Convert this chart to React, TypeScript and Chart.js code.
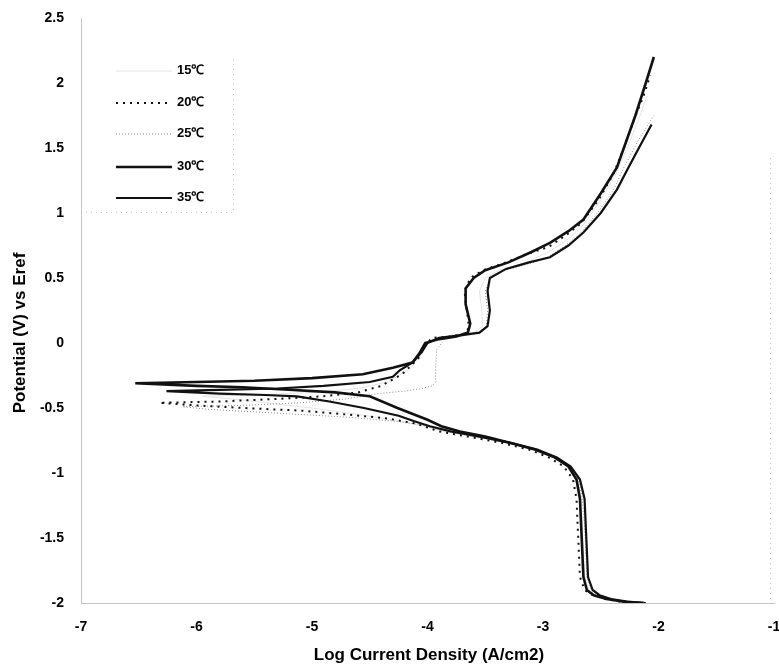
import React, { useEffect, useRef } from "react";
import { Chart, registerables } from "chart.js";

Chart.register(...registerables);

// ---- axis ticks ----
const xTickValues = [-7, -6, -5, -4, -3, -2, -1];
const yTickValues = [-2, -1.5, -1, -0.5, 0, 0.5, 1, 1.5, 2, 2.5];
const xTitle = "Log Current Density (A/cm2)";
const yTitle = "Potential (V) vs Eref";

// ---- series labels ----
const seriesLabels = ["15℃", "20℃", "25℃", "30℃", "35℃"];

// ---- 15 ℃ ----
const e15 = [-2.0, -1.99, -1.97, -1.94, -1.9, -1.8, -1.6, -1.4, -1.2, -1.05, -0.95, -0.88, -0.82, -0.77, -0.72, -0.68, -0.63, -0.59, -0.55, -0.5, -0.46, -0.43, -0.41,
  -0.4, -0.38, -0.35, -0.3, -0.2, -0.08, 0.02, 0.06, 0.08, 0.13, 0.25, 0.4, 0.5, 0.56, 0.62, 0.7, 0.8, 0.92, 1.1, 1.3, 1.5, 1.7, 1.9];
const logI15 = [-2.13, -2.29, -2.43, -2.54, -2.6, -2.64, -2.65, -2.66, -2.67, -2.7, -2.77, -2.9, -3.08, -3.3, -3.6, -3.86, -4.08, -4.3, -4.6, -5.0, -5.4, -5.7, -5.95,
  -5.5, -5.0, -4.6, -4.35, -4.15, -4.05, -3.98, -3.8, -3.6, -3.52, -3.53, -3.55, -3.5, -3.38, -3.15, -2.95, -2.78, -2.64, -2.5, -2.37, -2.27, -2.18, -2.1];

// ---- 20 ℃ ----
const e20 = [-2.0, -1.99, -1.97, -1.94, -1.9, -1.8, -1.6, -1.4, -1.2, -1.05, -0.95, -0.88, -0.82, -0.77, -0.72, -0.68, -0.62, -0.58, -0.55, -0.52, -0.5, -0.48, -0.46,
  -0.45, -0.43, -0.41, -0.38, -0.33, -0.24, -0.12, -0.02, 0.04, 0.05, 0.07, 0.12, 0.25, 0.4, 0.5, 0.56, 0.61, 0.68, 0.74, 0.83, 0.92, 1.1, 1.3, 1.5, 1.7, 1.9, 2.06];
const logI20 = [-2.15, -2.32, -2.46, -2.57, -2.64, -2.68, -2.69, -2.7, -2.71, -2.74, -2.82, -2.95, -3.12, -3.35, -3.65, -3.9, -4.1, -4.35, -4.7, -5.1, -5.6, -6.0, -6.32,
  -5.8, -5.3, -4.9, -4.6, -4.4, -4.22, -4.08, -4.02, -3.96, -3.8, -3.68, -3.64, -3.66, -3.68, -3.63, -3.52, -3.35, -3.15, -2.95, -2.8, -2.67, -2.52, -2.39, -2.3, -2.22, -2.13, -2.07];

// ---- 25 ℃ ----
const e25 = [-2.0, -1.99, -1.97, -1.94, -1.9, -1.8, -1.6, -1.4, -1.2, -1.05, -0.95, -0.88, -0.82, -0.77, -0.72, -0.68, -0.63, -0.6, -0.57, -0.55, -0.53, -0.51, -0.49,
  -0.48, -0.46, -0.43, -0.39, -0.37, -0.35, -0.33, -0.3, -0.2, -0.05, 0.03, 0.06, 0.08, 0.13, 0.25, 0.4, 0.5, 0.56, 0.61, 0.66, 0.74, 0.84, 1.0, 1.16, 1.35, 1.55, 1.75];
const logI25 = [-2.12, -2.28, -2.42, -2.52, -2.58, -2.62, -2.63, -2.64, -2.66, -2.69, -2.76, -2.88, -3.05, -3.28, -3.58, -3.82, -4.05, -4.3, -4.7, -5.1, -5.5, -5.9, -6.12,
  -5.6, -5.1, -4.7, -4.44, -4.2, -4.05, -3.96, -3.93, -3.93, -3.92, -3.85, -3.7, -3.56, -3.49, -3.48, -3.5, -3.46, -3.33, -3.12, -2.96, -2.82, -2.68, -2.53, -2.4, -2.3, -2.18, -2.04];

// ---- 30 ℃ ----
const e30 = [-2.0, -1.99, -1.97, -1.94, -1.9, -1.8, -1.6, -1.4, -1.2, -1.05, -0.95, -0.88, -0.82, -0.77, -0.72, -0.68, -0.64, -0.59, -0.5, -0.41, -0.38, -0.36, -0.34, -0.33, -0.31,
  -0.3, -0.29, -0.27, -0.24, -0.19, -0.15, -0.08, 0.0, 0.03, 0.05, 0.08, 0.15, 0.3, 0.42, 0.5, 0.56, 0.62, 0.7, 0.77, 0.86, 0.95, 1.15, 1.35, 1.55, 1.75, 2.0, 2.2];
const logI30 = [-2.13, -2.3, -2.45, -2.56, -2.62, -2.65, -2.66, -2.67, -2.68, -2.71, -2.78, -2.9, -3.07, -3.28, -3.5, -3.72, -3.88, -4.0, -4.26, -4.5, -4.8, -5.2, -5.6, -6.0, -6.53,
  -6.0, -5.5, -5.0, -4.56, -4.3, -4.13, -4.07, -4.02, -3.9, -3.75, -3.65, -3.63, -3.67, -3.67, -3.6, -3.5, -3.3, -3.1, -2.94, -2.78, -2.65, -2.5, -2.36, -2.28, -2.2, -2.11, -2.04];

// ---- 35 ℃ ----
const e35 = [-2.0, -1.99, -1.97, -1.94, -1.9, -1.8, -1.6, -1.4, -1.2, -1.05, -0.95, -0.88, -0.82, -0.77, -0.72, -0.68, -0.64, -0.6, -0.56, -0.5, -0.45, -0.41, -0.4, -0.39, -0.37,
  -0.36, -0.35, -0.33, -0.3, -0.26, -0.21, -0.15, -0.07, 0.0, 0.04, 0.06, 0.08, 0.13, 0.25, 0.4, 0.5, 0.57, 0.62, 0.66, 0.75, 0.85, 1.0, 1.18, 1.35, 1.5, 1.68];
const logI35 = [-2.11, -2.27, -2.41, -2.51, -2.57, -2.61, -2.62, -2.63, -2.64, -2.68, -2.76, -2.88, -3.05, -3.27, -3.55, -3.8, -3.98, -4.12, -4.25, -4.55, -4.85, -5.13, -5.4, -5.8, -6.26,
  -5.8, -5.3, -4.9, -4.5, -4.3, -4.24, -4.13, -4.05, -4.0, -3.9, -3.7, -3.55, -3.48, -3.46, -3.48, -3.46, -3.32, -3.12, -2.94, -2.78, -2.65, -2.5, -2.36, -2.26, -2.17, -2.06];

const toPoints = (xs: number[], ys: number[]) => xs.map((x, i) => ({ x, y: ys[i] }));

const FONT = "'Liberation Sans', Arial, Helvetica, sans-serif";

const styles = [
  { color: "#e4e4e4", width: 1, dash: [] as number[] },
  { color: "#111111", width: 2, dash: [2, 5] },
  { color: "#8a8a8a", width: 1, dash: [1, 2] },
  { color: "#111111", width: 2.6, dash: [] as number[] },
  { color: "#111111", width: 2.2, dash: [] as number[] },
];

const decorPlugin = {
  id: "decor",
  afterDraw(chart: any) {
    const { ctx, chartArea } = chart;
    ctx.save();
    // faint right axis
    ctx.strokeStyle = "#c4c4c4";
    ctx.lineWidth = 1;
    ctx.setLineDash([1, 4]);
    ctx.beginPath();
    ctx.moveTo(chartArea.right - 3.5, chartArea.top + 140);
    ctx.lineTo(chartArea.right - 3.5, chartArea.bottom);
    ctx.stroke();
    // faint legend box
    ctx.beginPath();
    ctx.moveTo(chartArea.left, 212.5);
    ctx.lineTo(233.5, 212.5);
    ctx.lineTo(233.5, 55);
    ctx.stroke();
    ctx.setLineDash([]);

    // legend
    const ys = [70, 102, 133, 166, 197];
    ctx.font = `bold 13px ${FONT}`;
    ctx.textBaseline = "middle";
    ctx.textAlign = "left";
    ctx.fillStyle = "#000";
    seriesLabels.forEach((lab, i) => {
      const st = styles[i];
      ctx.strokeStyle = st.color;
      ctx.lineWidth = st.width;
      ctx.setLineDash(st.dash);
      ctx.beginPath();
      ctx.moveTo(116, ys[i] + 1);
      ctx.lineTo(172, ys[i] + 1);
      ctx.stroke();
      ctx.setLineDash([]);
      ctx.fillText(lab, 177, ys[i]);
    });

    // axis titles
    ctx.font = `bold 17px ${FONT}`;
    ctx.textAlign = "center";
    ctx.textBaseline = "middle";
    ctx.fillText(xTitle, 429, 655);
    ctx.translate(20, 333);
    ctx.rotate(-Math.PI / 2);
    ctx.fillText(yTitle, 0, 0);
    ctx.restore();
  },
};

export default function App() {
  const ref = useRef<HTMLCanvasElement>(null);
  useEffect(() => {
    document.body.style.margin = "0";
    const xs = [logI15, logI20, logI25, logI30, logI35];
    const es = [e15, e20, e25, e30, e35];
    const order = [5, 3, 4, 1, 2];
    const chart = new Chart(ref.current as HTMLCanvasElement, {
      type: "scatter",
      data: {
        datasets: seriesLabels.map((lab, i) => ({
          label: lab,
          data: toPoints(xs[i], es[i]),
          showLine: true,
          borderColor: styles[i].color,
          borderWidth: styles[i].width,
          borderDash: styles[i].dash,
          pointRadius: 0,
          pointHoverRadius: 0,
          tension: 0,
          fill: false,
          order: order[i],
        })),
      },
      options: {
        animation: false,
        responsive: false,
        maintainAspectRatio: false,
        layout: { padding: { top: 18, right: 5, left: 0, bottom: 0 } },
        plugins: { legend: { display: false }, tooltip: { enabled: false } },
        scales: {
          x: {
            type: "linear",
            min: -7,
            max: -1,
            afterBuildTicks: (s: any) => { s.ticks = xTickValues.map((v) => ({ value: v })); },
            afterFit: (s: any) => { s.height = 63; s.paddingLeft = 0; s.paddingRight = 0; },
            grid: { display: false, drawTicks: false, tickLength: 0 },
            border: { display: true, color: "#c4c4c4", width: 1, dash: [1, 4] },
            ticks: {
              padding: 16,
              color: "#000",
              font: { family: FONT, size: 14, weight: "bold" },
              callback: (v: any) => String(v),
            },
          },
          y: {
            type: "linear",
            min: -2,
            max: 2.5,
            afterBuildTicks: (s: any) => { s.ticks = yTickValues.map((v) => ({ value: v })); },
            afterFit: (s: any) => { s.width = 81; s.paddingTop = 0; s.paddingBottom = 0; },
            grid: { display: false, drawTicks: false, tickLength: 0 },
            border: { display: true, color: "#c4c4c4", width: 1, dash: [1, 4] },
            ticks: {
              padding: 17,
              color: "#000",
              font: { family: FONT, size: 14, weight: "bold" },
              callback: (v: any) => String(v),
            },
          },
        },
      },
      plugins: [decorPlugin],
    });
    return () => chart.destroy();
  }, []);
  return (
    <div style={{ width: 779, height: 666, background: "#fff" }}>
      <canvas ref={ref} width={779} height={666} style={{ display: "block" }} />
    </div>
  );
}
